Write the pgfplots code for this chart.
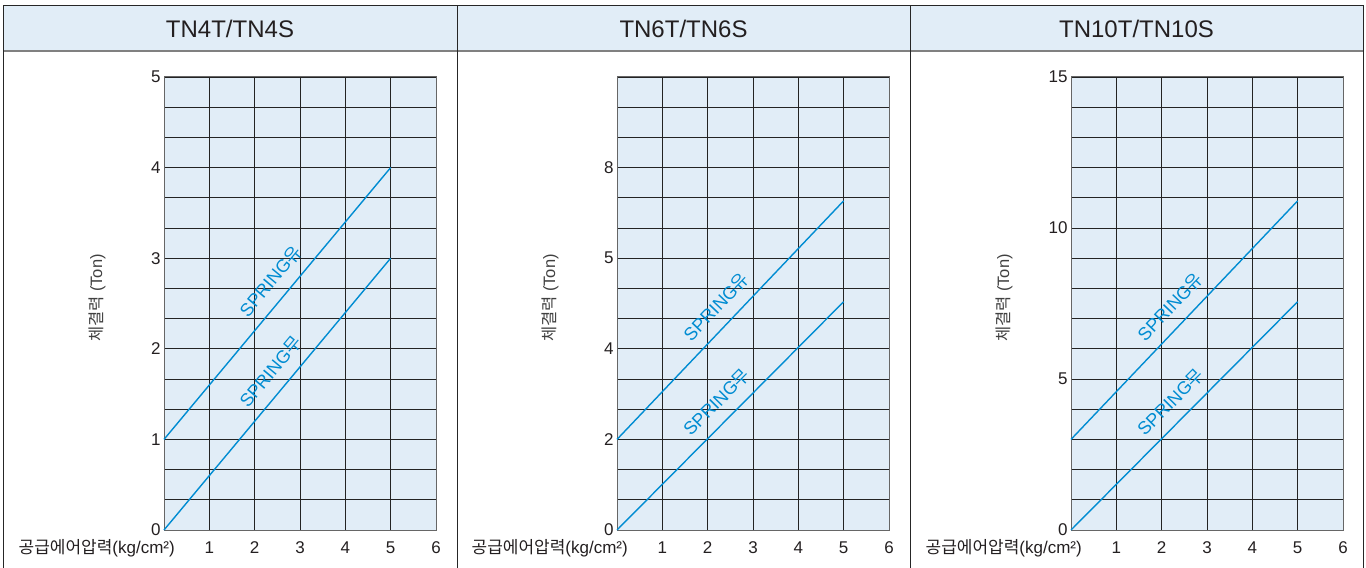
\documentclass[border=0pt]{standalone}
\usepackage{fontspec}
\setmainfont{Liberation Sans}
\newfontfamily\kr{Noto Sans CJK KR}
\usepackage{pgfplots}
\pgfplotsset{compat=1.18}

\definecolor{cellbg}{RGB}{225,237,247}
\definecolor{lineblue}{RGB}{0,140,210}
\definecolor{gridc}{RGB}{35,35,35}
\definecolor{txt}{RGB}{35,31,32}

\pgfplotsset{
  panel/.style={
    scale only axis, width=272bp, height=453bp,
    xmin=0, xmax=6, ymin=0,
    axis background/.style={fill=cellbg},
    axis line style={draw=black!60, line width=1bp},
    xtick={0,...,6}, xticklabels={,1,2,3,4,5,6},
    major tick length=0pt, minor tick length=0pt,
    grid=both,
    major grid style={draw=gridc, line width=0.9bp},
    minor grid style={draw=gridc, line width=0.9bp},
    tick label style={font=\fontsize{17bp}{20bp}\selectfont, text=txt},
    xticklabel style={anchor=base, yshift=-23bp},
    /pgf/number format/assume math mode=true,
    xlabel={{\kr 공급에어압력}(kg/cm²)},
    xlabel style={at={(axis description cs:0,0)}, anchor=base east,
      xshift=11bp, yshift=-23bp, inner sep=0pt,
      font=\fontsize{17bp}{20bp}\selectfont, text=txt},
    ylabel={{\kr 체결력} (Ton)},
    ylabel style={at={(axis description cs:-0.246,0.512)}, anchor=center,
      font=\fontsize{16.5bp}{19bp}\selectfont, text=black!75},
    clip=false,
  },
  spring/.style={lineblue, line width=1.4bp},
}
\tikzset{
  slabel/.style={sloped, anchor=south, inner xsep=0bp, inner ysep=11bp,
    text=lineblue, font=\fontsize{18bp}{21bp}\selectfont},
}

\begin{document}
\begin{tikzpicture}
\useasboundingbox (0,0) rectangle (1366bp,568bp);

% header band and frame
\fill[cellbg] (3bp,517bp) rectangle (1363bp,562bp);
\draw[black!50, line width=1.6bp] (3bp,517bp) -- (1363bp,517bp);
\draw[black!85, line width=1bp] (3bp,0bp) -- (3bp,562bp) -- (1363bp,562bp) -- (1363bp,0bp);
\draw[black!85, line width=1bp] (457bp,0bp) -- (457bp,562bp);
\draw[black!85, line width=1bp] (910bp,0bp) -- (910bp,562bp);
\node[font=\fontsize{24bp}{28bp}\selectfont, text=txt] at (230bp,539bp) {TN4T/TN4S};
\node[font=\fontsize{24bp}{28bp}\selectfont, text=txt] at (683.5bp,539bp) {TN6T/TN6S};
\node[font=\fontsize{24bp}{28bp}\selectfont, text=txt] at (1136.5bp,539bp) {TN10T/TN10S};

% TN4
\begin{axis}[panel, at={(164bp,38bp)}, anchor=south west,
  ymax=5, ytick={0,...,5}, minor y tick num=2]
\addplot[spring] coordinates {(0,1) (5,4)}
  node[slabel, pos=0.536] {SPRING{\kr 유}};
\addplot[spring] coordinates {(0,0) (5,3)}
  node[slabel, pos=0.536] {SPRING{\kr 무}};
\end{axis}

% TN6 (labels as printed)
\begin{axis}[panel, at={(617bp,38bp)}, anchor=south west,
  ymax=15, ytick={0,3,6,9,12}, yticklabels={0,2,4,5,8},
  minor ytick={0,...,15}]
\addplot[spring] coordinates {(0,3) (5,10.9)}
  node[slabel, pos=0.50] {SPRING{\kr 유}};
\addplot[spring] coordinates {(0,0) (5,7.56)}
  node[slabel, pos=0.50] {SPRING{\kr 무}};
\end{axis}

% TN10
\begin{axis}[panel, at={(1071bp,38bp)}, anchor=south west,
  ymax=15, ytick={0,5,10,15}, minor ytick={0,...,15}]
\addplot[spring] coordinates {(0,3) (5,10.9)}
  node[slabel, pos=0.50] {SPRING{\kr 유}};
\addplot[spring] coordinates {(0,0) (5,7.56)}
  node[slabel, pos=0.50] {SPRING{\kr 무}};
\end{axis}
\end{tikzpicture}
\end{document}
